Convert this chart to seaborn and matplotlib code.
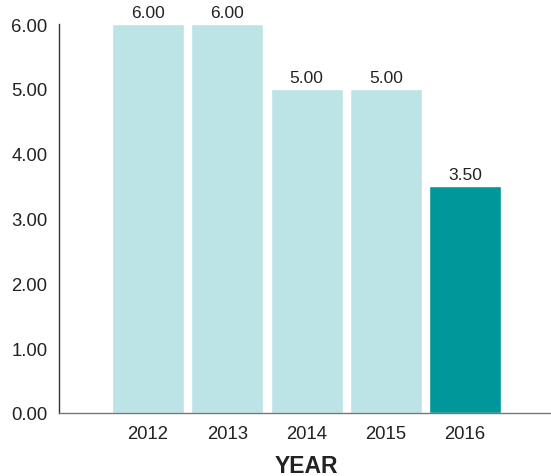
import matplotlib
matplotlib.use("Agg")
import matplotlib.pyplot as plt
import seaborn as sns
import pandas as pd

years = ["2012", "2013", "2014", "2015", "2016"]
values = [6.00, 6.00, 5.00, 5.00, 3.50]
colors = ["#BCE3E5", "#BCE3E5", "#BCE3E5", "#BCE3E5", "#00979A"]

sns.set_theme(style="white")
plt.rcParams["font.family"] = ["Liberation Sans", "DejaVu Sans"]

df = pd.DataFrame({"year": years, "value": values})

fig = plt.figure(figsize=(5.51, 4.77), dpi=100)
ax = fig.add_axes([58.5 / 551, 1 - 414 / 477, (550 - 58.5) / 551, (414 - 25) / 477])

sns.barplot(data=df, x="year", y="value", hue="year", palette=colors,
            legend=False, width=0.908, saturation=1, ax=ax)

for i, v in enumerate(values):
    ax.text(i, v + 0.06, f"{v:.2f}", ha="center", va="bottom",
            fontsize=12.5, color="#222222")

ax.set_ylim(0, 6)
ax.set_xlim(-1.129, 5.07)
ax.set_yticks([0, 1, 2, 3, 4, 5, 6])
ax.set_yticklabels([f"{t:.2f}" for t in [0, 1, 2, 3, 4, 5, 6]])
ax.tick_params(axis="both", length=0, labelsize=13.3, colors="#222222")
ax.tick_params(axis="x", pad=9)
ax.tick_params(axis="y", pad=8)
ax.set_ylabel("")
ax.set_xlabel("YEAR", fontsize=16.5, fontweight="bold", color="#222222", va="center")
ax.xaxis.set_label_coords((306 - 58.5) / (550 - 58.5), (414 - 467) / 389)

for s in ["top", "right"]:
    ax.spines[s].set_visible(False)
ax.spines["left"].set_color("#333333")
ax.spines["left"].set_linewidth(1.0)
ax.spines["bottom"].set_color("#777777")
ax.spines["bottom"].set_linewidth(1.0)

fig.savefig("out.png", dpi=100)
